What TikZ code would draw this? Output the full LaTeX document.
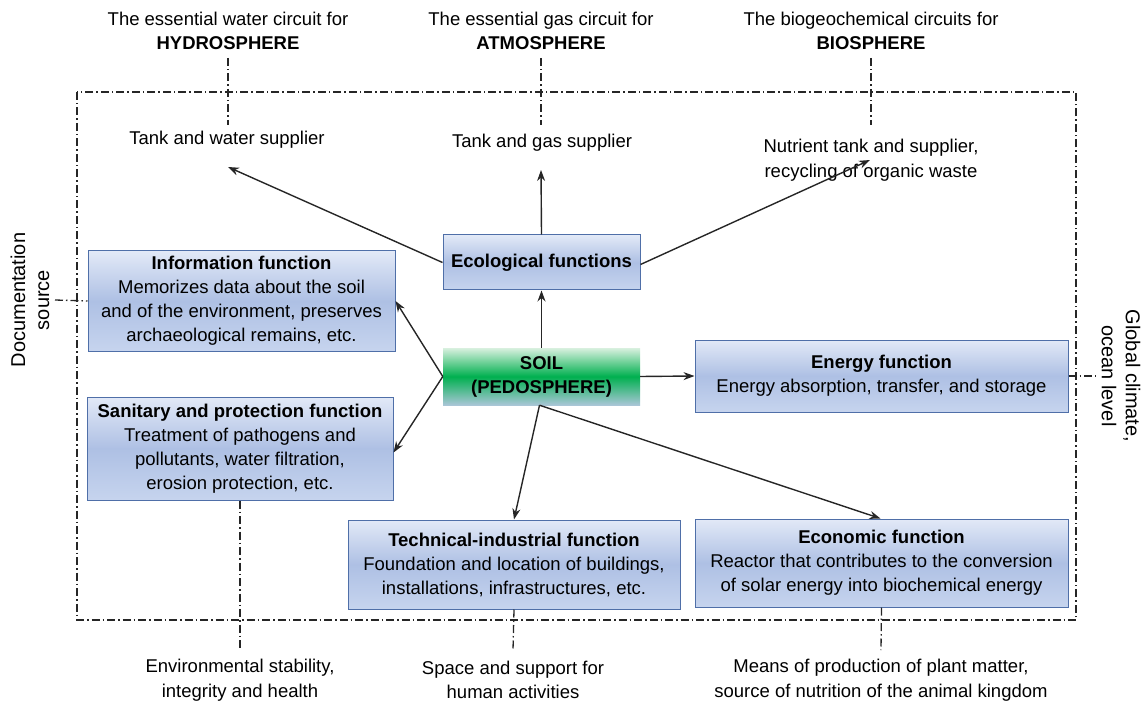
\documentclass[tikz,border=0pt]{standalone}
\usepackage{fontspec}
\setmainfont{Liberation Sans}
\usetikzlibrary{arrows.meta}
\definecolor{boxtop}{HTML}{E2E9F7}
\definecolor{boxmid}{HTML}{AEC0E4}
\definecolor{boxbot}{HTML}{C6D4EE}
\definecolor{boxline}{HTML}{4F6FA8}
\definecolor{soiltop}{HTML}{D9F0DF}
\definecolor{soilmid}{HTML}{00B04F}
\definecolor{soilbot}{HTML}{A9C6D6}
\tikzset{
  fbox/.style={draw=boxline, line width=1pt, top color=boxtop, bottom color=boxbot, middle color=boxmid, align=center, inner sep=2pt, font=\fontsize{18.5}{24}\selectfont},
  soilbox/.style={draw=none, top color=soiltop, bottom color=soilbot, middle color=soilmid, align=center, font=\fontsize{18.5}{24}\selectfont},
  lbl/.style={align=center, font=\fontsize{18.5}{24.5}\selectfont, inner sep=0pt},
  slbl/.style={align=center, font=\fontsize{20}{24}\selectfont, inner sep=0pt},
  ddot/.style={line width=1.3pt, black!85, dash pattern=on 8pt off 3pt on 1.5pt off 3pt},
  arr/.style={line width=1.4pt, black!85, -{Stealth[length=11pt,width=8pt]}},
}
\begin{document}
\begin{tikzpicture}[x=1pt,y=-1pt]
\useasboundingbox (0,0) rectangle (1147,708);
% outer frame
\draw[ddot] (77,92) rectangle (1076,620);
% top labels
\node[lbl] (hyd) at (228,31) {The essential water circuit for\\\textbf{HYDROSPHERE}};
\node[lbl] (atm) at (541,31) {The essential gas circuit for\\\textbf{ATMOSPHERE}};
\node[lbl] (bio) at (871,31) {The biogeochemical circuits for\\\textbf{BIOSPHERE}};
\coordinate (hydE) at (228,125);
\coordinate (atmE) at (541,125);
\coordinate (bioE) at (871,125);
\draw[ddot] (228,58) -- (hydE);
\draw[ddot] (541,58) -- (atmE);
\draw[ddot] (871,58) -- (bioE);
% inner labels
\node[lbl] (tw) at (227,140) {Tank and water supplier};
\node[lbl] (tg) at (542,143) {Tank and gas supplier};
\node[lbl] (nt) at (871,160) {Nutrient tank and supplier,\\recycling of organic waste};
\coordinate (twA) at (228,167);
\coordinate (tgA) at (541,170);
\coordinate (ntA) at (870,160);
% boxes
\node[fbox, minimum width=197pt, minimum height=55pt] (eco) at (541.5,262.5) {\textbf{Ecological functions}};
\node[soilbox, minimum width=197pt, minimum height=57pt] (soil) at (541.5,376.5) {\textbf{SOIL}\\\textbf{(PEDOSPHERE)}};
\node[fbox, minimum width=307pt, minimum height=100pt] (info) at (241.5,301) {\textbf{Information function}\\Memorizes data about the soil\\and of the environment, preserves\\archaeological remains, etc.};
\node[fbox, minimum width=306pt, minimum height=103pt] (san) at (240,448.5) {\textbf{Sanitary and protection function}\\Treatment of pathogens and\\pollutants, water filtration,\\erosion protection, etc.};
\node[fbox, minimum width=373pt, minimum height=72pt] (ener) at (881.5,376) {\textbf{Energy function}\\Energy absorption, transfer, and storage};
\node[fbox, minimum width=332pt, minimum height=89pt] (tech) at (514,564.5) {\textbf{Technical-industrial function}\\Foundation and location of buildings,\\installations, infrastructures, etc.};
\node[fbox, minimum width=373pt, minimum height=88pt] (econ) at (881.5,563) {\textbf{Economic function}\\Reactor that contributes to the conversion\\of solar energy into biochemical energy};
% arrows
\draw[arr] (eco.north) -- (tgA);
\draw[arr] (eco.west) -- (twA);
\draw[arr] ([yshift=-2pt]eco.east) -- (ntA);
\draw[arr] (soil.north) -- (eco.south);
\draw[arr] (soil.west) -- (info.east);
\draw[arr] (soil.west) -- ([yshift=-4pt]san.east);
\draw[arr] (soil.east) -- (ener.west);
\draw[arr] ([xshift=-2pt]soil.south) -- (tech.north);
\draw[arr] ([xshift=-2pt]soil.south) -- ([xshift=-1pt]econ.north);
% bottom labels
\node[lbl] (env) at (240,680) {Environmental stability,\\integrity and health};
\node[lbl] (spc) at (513,680) {Space and support for\\human activities};
\node[lbl] (mns) at (881,680) {Means of production of plant matter,\\source of nutrition of the animal kingdom};
\draw[ddot] (san.south) -- (240,650);
\draw[ddot] (tech.south) -- (513,650);
\draw[ddot] (econ.south) -- (881,650);
% side labels
\node[slbl, rotate=90] (doc) at (30,300) {Documentation\\source};
\node[slbl, rotate=-90] (glob) at (1121,376) {Global climate,\\ocean level};
\draw[ddot] (55,300) -- (info.west);
\draw[ddot] (ener.east) -- (1096,376);
\end{tikzpicture}
\end{document}
